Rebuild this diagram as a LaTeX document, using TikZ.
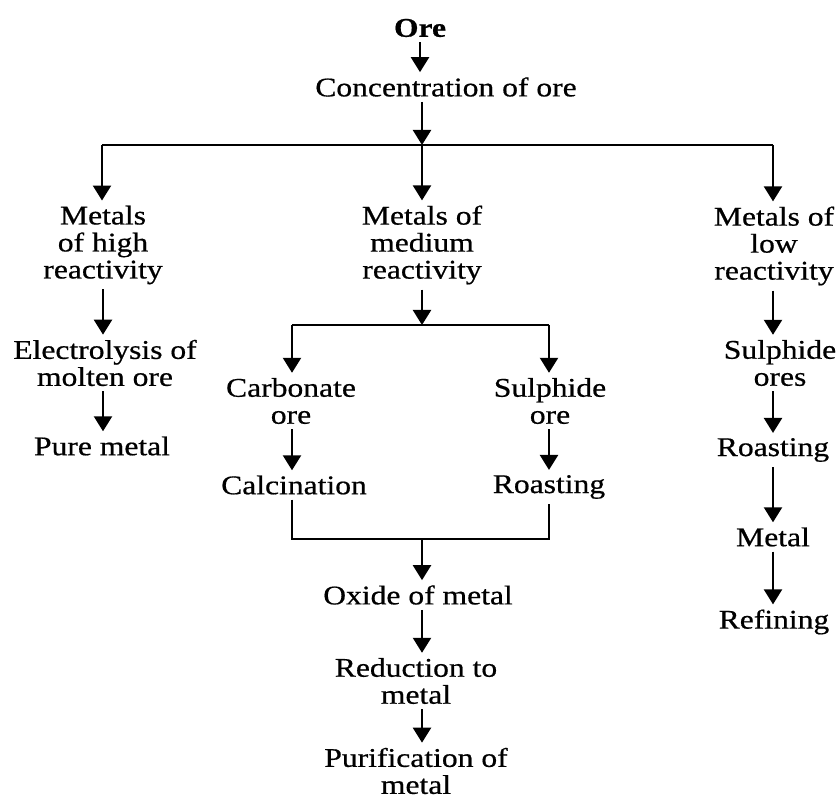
\documentclass[tikz,border=0pt]{standalone}
\usepackage{fontspec}
\setmainfont[FakeStretch=1.17,FakeBold=0.6]{Liberation Serif}
\usetikzlibrary{arrows.meta}
\begin{document}
\begin{tikzpicture}[x=1pt,y=-1pt,
  lbl/.style={align=center,inner xsep=0pt,inner ysep=5pt,font=\fontsize{27}{27}\selectfont},
  conn/.style={line width=2.3pt},
  arr/.style={conn,-{Triangle[width=18pt,length=15pt]}}]
\useasboundingbox (0,0) rectangle (838,802);
\fill[white] (0,0) rectangle (838,802);
% nodes
\node[lbl,font=\fontsize{27}{27}\selectfont\bfseries] (ore) at (420,28) {Ore};
\node[lbl] (conc) at (446,87) {Concentration of ore};
\node[lbl] (mhigh) at (103,245) {Metals\\of high\\reactivity};
\node[lbl] (mmed) at (422,245) {Metals of\\medium\\reactivity};
\node[lbl] (mlow) at (774,246) {Metals of\\low\\reactivity};
\node[lbl] (elec) at (105,363) {Electrolysis of\\molten ore};
\node[lbl] (pure) at (102,446) {Pure metal};
\node[lbl] (carb) at (291,401) {Carbonate\\ore};
\node[lbl] (sulph) at (550,401) {Sulphide\\ore};
\node[lbl] (calc) at (294,485) {Calcination};
\node[lbl] (roast1) at (549,487) {Roasting};
\node[lbl] (oxide) at (418,595) {Oxide of metal};
\node[lbl] (reduc) at (416,681) {Reduction to\\metal};
\node[lbl] (purif) at (416,771) {Purification of\\metal};
\node[lbl] (sores) at (780,363) {Sulphide\\ores};
\node[lbl] (roast2) at (773,450) {Roasting};
\node[lbl] (metal) at (773,537) {Metal};
\node[lbl] (refin) at (774,622) {Refining};
% junction points
\coordinate (busL) at (102,145);
\coordinate (busM) at (422,145);
\coordinate (busR) at (773,145);
\coordinate (subL) at (292,325);
\coordinate (subM) at (422,325);
\coordinate (subR) at (549,325);
\coordinate (joinM) at (422,539);
% connectors
\draw[arr] (ore.south) -- (ore.south |- conc.north);
\draw[arr] (conc.south -| busM) -- (busM);
\draw[conn] (busL) -- (busR);
\draw[arr] (busL) -- (busL |- mhigh.north);
\draw[arr] (busM) -- (busM |- mmed.north);
\draw[arr] (busR) -- (busR |- mlow.north);
% high reactivity
\draw[arr] (mhigh.south) -- (mhigh.south |- elec.north);
\draw[arr] (elec.south -| mhigh.south) -- (mhigh.south |- pure.north);
% medium reactivity
\draw[arr] (mmed.south -| subM) -- (subM);
\draw[conn] (subL) -- (subR);
\draw[arr] (subL) -- (subL |- carb.north);
\draw[arr] (subR) -- (subR |- sulph.north);
\draw[arr] (carb.south -| subL) -- (subL |- calc.north);
\draw[arr] (sulph.south -| subR) -- (subR |- roast1.north);
\draw[conn] (calc.south -| subL) -- (subL |- joinM) -- (subR |- joinM) -- (roast1.south -| subR);
\draw[arr] (joinM) -- (joinM |- oxide.north);
\draw[arr] (oxide.south -| joinM) -- (joinM |- reduc.north);
\draw[arr] (reduc.south -| joinM) -- (joinM |- purif.north);
% low reactivity
\draw[arr] (mlow.south -| busR) -- (busR |- sores.north);
\draw[arr] (sores.south -| busR) -- (busR |- roast2.north);
\draw[arr] (roast2.south -| busR) -- (busR |- metal.north);
\draw[arr] (metal.south -| busR) -- (busR |- refin.north);
\end{tikzpicture}
\end{document}
